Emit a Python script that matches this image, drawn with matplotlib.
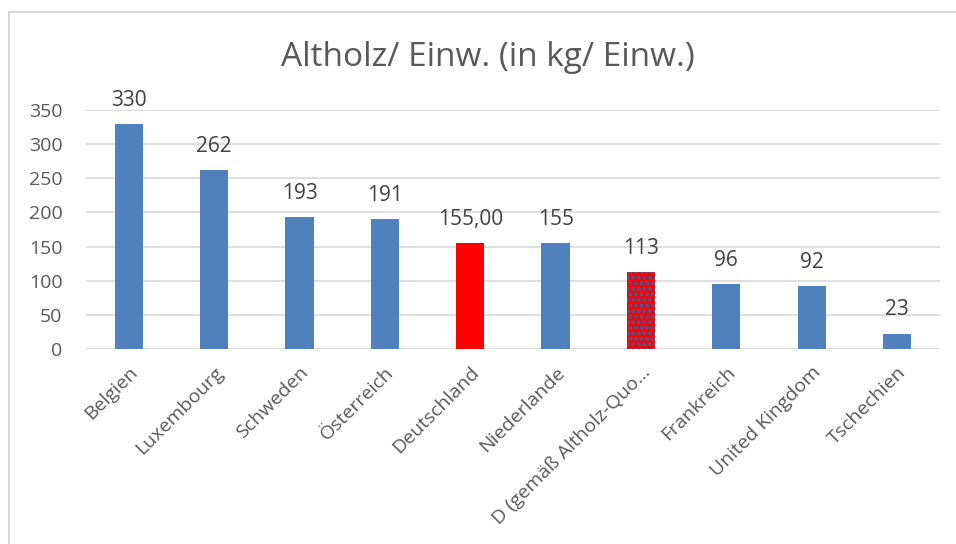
import matplotlib.pyplot as plt
from matplotlib.patches import Rectangle

plt.rcParams['font.family'] = ['Open Sans', 'DejaVu Sans']
plt.rcParams['hatch.linewidth'] = 2.0

laender = ['Belgien', 'Luxembourg', 'Schweden', 'Österreich', 'Deutschland',
           'Niederlande', 'D (gemäß Altholz-Quo…', 'Frankreich', 'United Kingdom',
           'Tschechien']
werte = [330, 262, 193, 191, 155, 155, 113, 96, 92, 23]
beschriftung = ['330', '262', '193', '191', '155,00', '155', '113', '96', '92', '23']
farben = ['#4f81bd', '#4f81bd', '#4f81bd', '#4f81bd', '#ff0000',
          '#4f81bd', '#ff0000', '#4f81bd', '#4f81bd', '#4f81bd']

fig = plt.figure(figsize=(9.56, 5.44), dpi=100)
ax = fig.add_axes([0.09, 0.358, 0.893, 0.44])

x = range(len(laender))
bars = ax.bar(x, werte, width=0.33, color=farben, zorder=3)
# gemustert: D (gemäß Altholz-Quote)
ax.bar(6, werte[6], width=0.33, facecolor='none', edgecolor='#3b5f9e',
       hatch='...', linewidth=0, zorder=4)

for b, t in zip(bars, beschriftung):
    ax.annotate(t, (b.get_x() + b.get_width() / 2, b.get_height()),
                xytext=(0, 13), textcoords='offset points', ha='center',
                va='baseline', fontsize=15, color='#404040')

ax.set_ylim(0, 350)
ax.set_xlim(-0.5, 9.5)
ax.set_yticks(range(0, 351, 50))
ax.yaxis.grid(True, color='#d9d9d9', linewidth=1.2, zorder=0)
ax.set_axisbelow(True)
for s in ax.spines.values():
    s.set_visible(False)
ax.tick_params(length=0, labelsize=14, labelcolor='#595959')
ax.tick_params(axis='y', pad=17)
ax.set_xticks(list(x))
ax.set_xticklabels(laender, rotation=45, ha='right', rotation_mode='anchor')
ax.tick_params(axis='x', pad=10)

fig.text(0.51, 0.895, 'Altholz/ Einw. (in kg/ Einw.)', ha='center', va='center',
         fontsize=24, color='#595959')

fig.patches.append(Rectangle((8.5 / 956, -0.1), 1.2, 1.1 - 11.5 / 544,
                             transform=fig.transFigure, fill=False,
                             edgecolor='#d9d9d9', linewidth=1.5))

fig.savefig('out.png', dpi=100)
